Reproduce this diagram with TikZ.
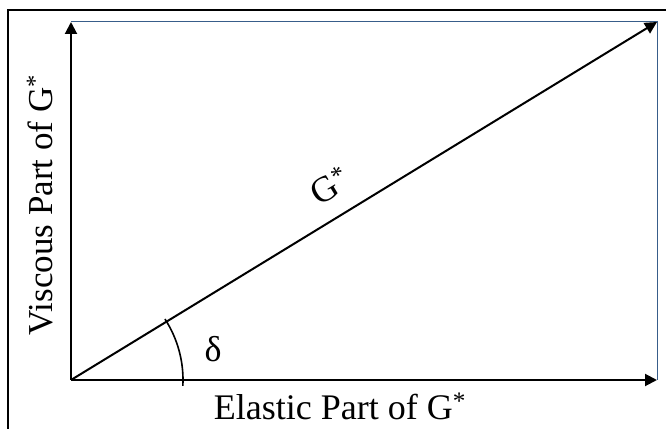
\documentclass[tikz,border=0pt]{standalone}
\usepackage{fontspec}
\setmainfont{Liberation Serif}
\usetikzlibrary{positioning,arrows.meta}

\begin{document}
\begin{tikzpicture}[x=1pt, y=1pt,
	axis/.style = {line width=2pt, -{Triangle[length=12pt, width=12pt]}},
	guide/.style = {line width=1pt, draw={rgb,255:red,56;green,93;blue,138}},
	lbl/.style = {font=\fontsize{36}{40}\selectfont, inner sep=0pt}]
	\useasboundingbox (0,0) rectangle (666,428);
	\clip (0,0) rectangle (666,428);

	% Frame
	\draw[line width=2.7pt] (8,-10) -- (8,418) -- (680,418);

	\coordinate (O) at (71,48);
	\coordinate (Y) at (71,406);
	\coordinate (X) at (657,48);
	\coordinate (C) at (657,406);

	\draw[guide] (Y) -- (C) -- (X);
	\draw[axis] (O) -- (Y);
	\draw[axis] (O) -- (X);
	\draw[axis] (O) -- (C);
	\draw[line width=1.6pt] (O) ++(-3:112) arc[start angle=-3, end angle=33, radius=112];

	\node[lbl, anchor=base] (xlab) at (340,9) {Elastic Part of G\textsuperscript{*}};
	\node[lbl, font=\fontsize{35}{40}\selectfont, rotate=90, anchor=base] (ylab) at (52,223) {Viscous Part of G\textsuperscript{*}};
	\node[lbl] (delta) at (213,79) {δ};
	\node[lbl, rotate=31.4] (gstar) at (330,242) {G\textsuperscript{*}};
\end{tikzpicture}
\end{document}
